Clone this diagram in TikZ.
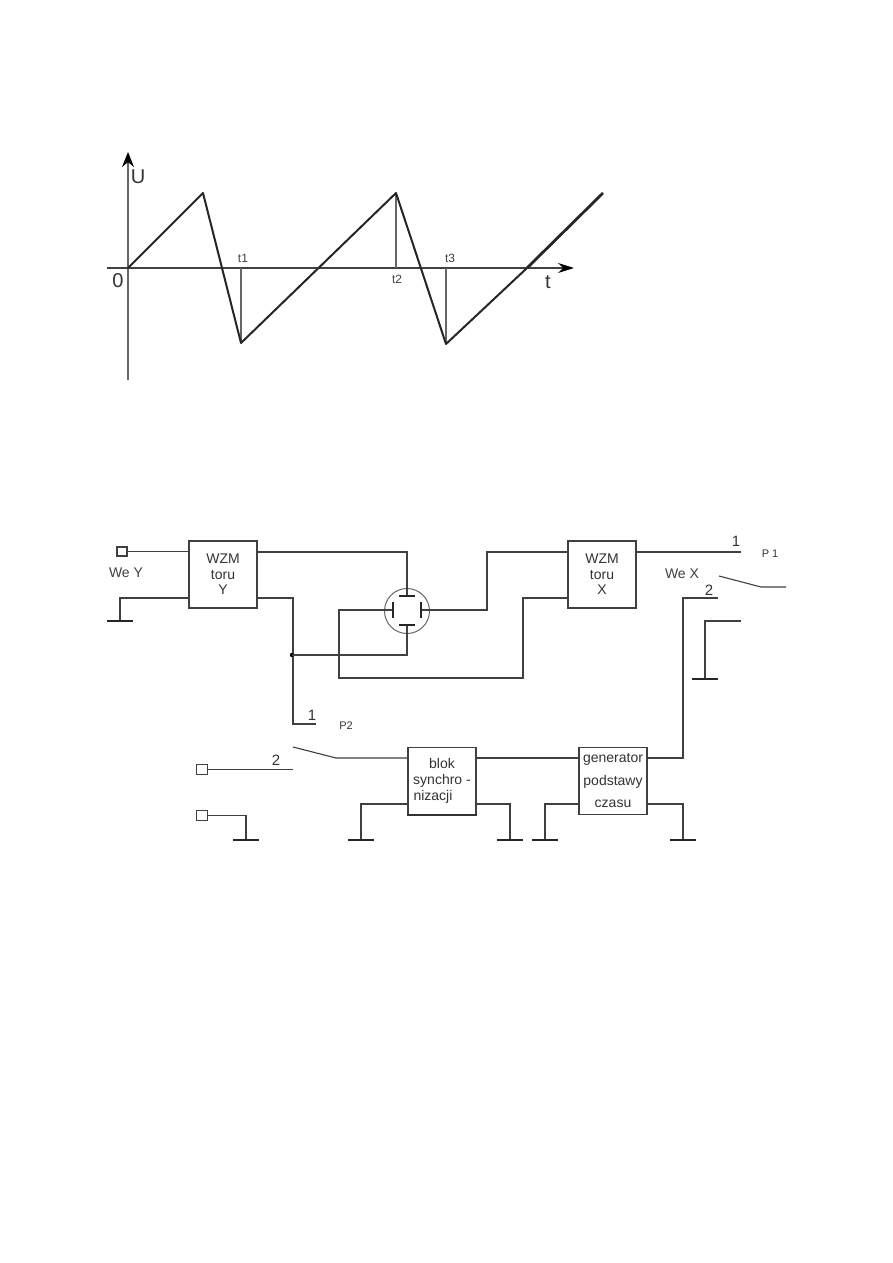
\documentclass[tikz,border=0pt]{standalone}
\usepackage{fontspec}
\setmainfont{Liberation Sans}
\usetikzlibrary{arrows.meta}
\tikzset{
	wire/.style={line width=1.1pt, color=black!75},
	block/.style={draw=black!75, line width=1.1pt, minimum width=68pt, minimum height=67pt, inner sep=0pt, align=center, text=black!80},
	gnd/.style={fill=black!85, minimum width=26pt, minimum height=2.6pt, inner sep=0pt, outer sep=0pt},
	hplate/.style={fill=black!85, minimum width=16pt, minimum height=2.4pt, inner sep=0pt, outer sep=0pt},
	vplate/.style={fill=black!85, minimum width=2.4pt, minimum height=16pt, inner sep=0pt, outer sep=0pt},
	term/.style={draw=black!75, line width=1pt, fill=white, minimum width=10.5pt, minimum height=9.5pt, inner sep=0pt},
	lbl/.style={font=\fontsize{14}{16}\selectfont, text=black!75, inner sep=0pt},
	numlbl/.style={font=\fontsize{15}{17}\selectfont, text=black!80, inner sep=0pt},
	biglbl/.style={font=\fontsize{20}{22}\selectfont, text=black!80, inner sep=0pt},
	ticklbl/.style={font=\fontsize{12}{14}\selectfont, text=black!75, inner sep=0pt},
	smalllbl/.style={font=\fontsize{11}{13}\selectfont, text=black!80, inner sep=0pt}
}
\begin{document}
\begin{tikzpicture}[x=1pt, y=-1pt]
	\useasboundingbox (0,0) rectangle (893,1263);
	\fill[white] (0,0) rectangle (893,1263);

	\draw[-{Stealth[length=15pt,width=12pt,color=black]}, wire, color=black!60] (128,380) -- (128,152);
	\draw[-{Stealth[length=16pt,width=10pt,color=black]}, wire, color=black!75] (107,268) -- (574,268);
	\draw[wire, color=black!60] (241,268) -- (241,343);
	\draw[wire, color=black!60] (396,193) -- (396,268);
	\draw[wire, color=black!60] (446,268) -- (446,344);
	\draw[line width=2pt, color=black!85, line join=round] (128,268) -- (203,193) -- (241,343) -- (396,193) -- (446,344) -- (527,268);
	\draw[line width=2.8pt, color=black!85] (527,268) -- (603,193);
	\node[biglbl] (lblu) at (138,177) {U};
	\node[biglbl] (lblzero) at (118,281) {0};
	\node[biglbl] (lblt) at (548,282) {t};
	\node[ticklbl] (lblta) at (243,258) {t1};
	\node[ticklbl] (lbltb) at (397,279) {t2};
	\node[ticklbl] (lbltc) at (450,258) {t3};

	\node[block, font=\fontsize{14}{15.5}\selectfont] (wzmy) at (223,574.5) {WZM\\toru\\Y};
	\node[block, font=\fontsize{14}{15.5}\selectfont] (wzmx) at (602,574.5) {WZM\\toru\\X};
	\node[block, font=\fontsize{14}{16}\selectfont] (blok) at (442,781) {blok\\synchro -\\nizacji\hspace*{18pt}};
	\node[block, line width=1.8pt, font=\fontsize{14}{22.5}\selectfont] (gen) at (613,781) {generator\\podstawy\\czasu};
	\draw[line width=2pt, color=black!80] (blok.south west) -- (blok.south east);

	\node[draw=black!60, line width=1pt, circle, minimum size=45pt, inner sep=0pt] (crt) at (407,611) {};
	\node[hplate] (pltop) at (407,596) {};
	\node[hplate] (plbot) at (407,625) {};
	\node[vplate] (plleft) at (393,610) {};
	\node[vplate] (plright) at (421,610) {};

	\node[term, line width=1.8pt] (termy) at (122,551.5) {};
	\node[term] (termsa) at (202,769.5) {};
	\node[term] (termsb) at (202,815.5) {};

	\node[gnd] (gnda) at (120,621) {};
	\node[gnd] (gndb) at (705,679) {};
	\node[gnd] (gndc) at (246,840) {};
	\node[gnd] (gndd) at (361,840) {};
	\node[gnd] (gnde) at (510,840) {};
	\node[gnd] (gndf) at (545,840) {};
	\node[gnd] (gndg) at (683,840) {};

	\coordinate (ya) at (189,551.5);
	\coordinate (yb) at (189,598);
	\coordinate (yc) at (257,552);
	\coordinate (yd) at (257,598);
	\coordinate (xa) at (568,552);
	\coordinate (xb) at (568,598);
	\coordinate (xc) at (636,552);
	\coordinate (bl) at (408,758);
	\coordinate (br) at (476,758);
	\coordinate (bs) at (408,804);
	\coordinate (bt) at (476,804);
	\coordinate (gl) at (579,758);
	\coordinate (gr) at (647,758);
	\coordinate (gs) at (579,804);
	\coordinate (gt) at (647,804);
	\coordinate (pxone) at (741,552);
	\coordinate (pxcorner) at (683,598);
	\coordinate (pxtwo) at (718,598);
	\coordinate (pxgnd) at (741,621);
	\coordinate (pxarm) at (719,576);
	\coordinate (pxpiv) at (761,587);
	\coordinate (pxout) at (786,587);
	\coordinate (pycorner) at (293,724);
	\coordinate (pyone) at (316,724);
	\coordinate (pytwo) at (293,769.5);
	\coordinate (pyarm) at (293,747);
	\coordinate (pypiv) at (336,758);
	\coordinate (dot) at (292,655);
	\coordinate (lefta) at (339,610);
	\coordinate (leftb) at (523,678);
	\coordinate (righta) at (487,610);

	\draw[wire] (termy) -- (ya);
	\draw[wire] (yb) -| (gnda);
	\draw[wire] (yc) -| (pltop);
	\draw[wire] (yd) -| (pycorner) -- (pyone);
	\fill[black] (dot) circle (2.2pt);
	\draw[wire] (dot) -| (plbot);
	\draw[wire] (plleft) -- (lefta) |- (leftb) |- (xb);
	\draw[wire] (plright) -- (righta) |- (xa);
	\draw[wire] (xc) -- (pxone);
	\draw[wire] (pxgnd) -| (gndb);
	\draw[wire] (pxarm) -- (pxpiv) -- (pxout);
	\draw[wire] (gr) -| (pxcorner) -- (pxtwo);
	\draw[wire] (br) -- (gl);
	\draw[wire] (pyarm) -- (pypiv) -- (bl);
	\draw[wire] (termsa) -- (pytwo);
	\draw[wire] (termsb) -| (gndc);
	\draw[wire] (bs) -| (gndd);
	\draw[wire] (bt) -| (gnde);
	\draw[wire] (gs) -| (gndf);
	\draw[wire] (gt) -| (gndg);

	\node[lbl] (lblwey) at (126,573) {We Y};
	\node[lbl] (lblwex) at (682,574) {We X};
	\node[numlbl] (lblxone) at (736,541) {1};
	\node[numlbl] (lblxtwo) at (709,590) {2};
	\node[smalllbl] (lblpone) at (770,554) {P 1};
	\node[numlbl] (lblyone) at (312,715) {1};
	\node[numlbl] (lblytwo) at (276,760) {2};
	\node[smalllbl] (lblptwo) at (346,726) {P2};
\end{tikzpicture}
\end{document}
